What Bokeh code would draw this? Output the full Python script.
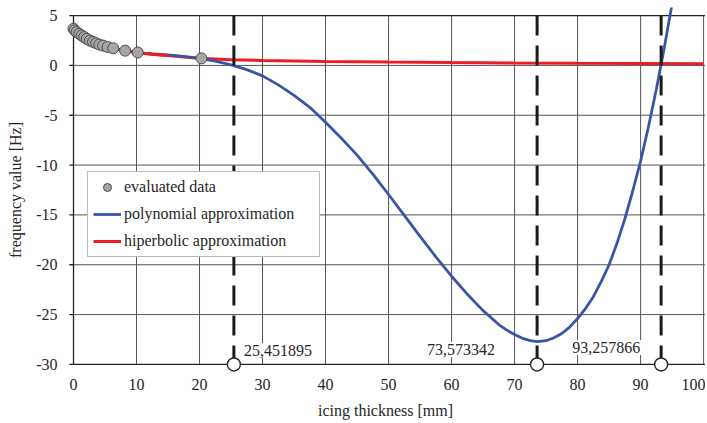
from bokeh.plotting import figure
from bokeh.models import FixedTicker, ColumnDataSource, Legend, LegendItem, Range1d
from bokeh.embed import file_html
from bokeh.resources import INLINE

# ---- data ----
data_x = [0, 0.2, 0.5, 0.9, 1.3, 1.7, 2.1, 2.6, 3.1, 3.6, 4.1, 4.7, 5.4, 6.3, 8.2, 10.2, 20.3]
data_y = [3.68, 3.51, 3.35, 3.17, 3.0, 2.84, 2.67, 2.49, 2.36, 2.23, 2.09, 1.99, 1.85, 1.72, 1.48, 1.30, 0.71]

poly_x = [10.2, 12.5, 15, 17.5, 20, 22.5, 25, 27.5, 30, 32.5, 35, 37.5, 40, 42.5, 45, 47.5,
          50, 52.5, 55, 57.5, 60, 62.5, 65, 67.5, 68.75, 70, 71.25, 72.5, 73.6, 75, 76.25,
          77.5, 78.75, 80, 81.25, 82.5, 83.75, 85, 86.25, 87.5, 88.75, 90, 91.25, 92.5,
          93.75, 95]
poly_y = [1.26, 1.16, 1.05, 0.90, 0.70, 0.42, 0.06, -0.42, -1.05, -1.95, -3.00, -4.20, -5.70,
          -7.30, -9.00, -10.90, -12.95, -15.05, -17.15, -19.20, -21.15, -22.95, -24.60, -26.00,
          -26.55, -27.00, -27.38, -27.62, -27.72, -27.62, -27.32, -26.90, -26.25, -25.40,
          -24.40, -23.20, -21.70, -20.00, -17.85, -15.40, -12.60, -9.60, -6.15, -2.40,
          1.75, 6.20]

hyp_x = [0, 0.5, 1, 2, 3, 4, 5, 6, 8, 10, 12.5, 15, 17.5, 20, 25, 30, 40, 50, 60, 70, 80, 90, 100]
hyp_y = [3.68, 3.38, 3.12, 2.72, 2.40, 2.14, 1.95, 1.78, 1.50, 1.30, 1.13, 1.00, 0.85, 0.73,
         0.58, 0.50, 0.40, 0.33, 0.28, 0.24, 0.21, 0.19, 0.17]

roots = [25.451895, 73.573342, 93.257866]
root_labels = ["25,451895", "73,573342", "93,257866"]

x_ticks = [0, 10, 20, 30, 40, 50, 60, 70, 80, 90, 100]
y_ticks = [-30, -25, -20, -15, -10, -5, 0, 5]

X_MIN, X_MAX = 0, 100.3      # axis starts at 0; plot area runs a bit past 100
Y_MIN, Y_MAX = -30, 5

FONT = "Liberation Serif"
TXT = "#262626"
GRID = "#555555"
AX = "#222222"

p = figure(width=705, height=421, output_backend="svg", toolbar_location=None,
           x_range=Range1d(-1.27, X_MAX), y_range=Range1d(-30.81, 5.81),
           min_border_left=65, min_border_top=7, min_border_right=0, min_border_bottom=10)
p.background_fill_color = "white"
p.border_fill_color = "white"
p.outline_line_color = None
p.grid.visible = False

# axes (labels only; lines drawn below at x=0 / y=-30)
p.xaxis.ticker = FixedTicker(ticks=x_ticks)
p.yaxis.ticker = FixedTicker(ticks=y_ticks)
p.yaxis.major_label_overrides = {t: str(t) for t in y_ticks}
p.xaxis.major_label_overrides = {t: str(t) for t in x_ticks}
for ax in (p.xaxis, p.yaxis):
    ax.axis_line_color = None
    ax.major_tick_line_color = None
    ax.minor_tick_line_color = None
    ax.major_tick_out = 0
    ax.major_tick_in = 0
    ax.major_label_text_font = FONT
    ax.major_label_text_font_size = "16px"
    ax.major_label_text_color = TXT
    ax.axis_label_text_font = FONT
    ax.axis_label_text_font_size = "16px"
    ax.axis_label_text_font_style = "normal"
    ax.axis_label_text_color = TXT
p.xaxis.major_label_standoff = 6
p.xaxis.axis_label = "icing thickness [mm]"
p.xaxis.axis_label_standoff = 9
p.yaxis.major_label_standoff = 8
p.yaxis.axis_label = "frequency value [Hz]"
p.yaxis.axis_label_standoff = 9

# grid lines
vx = x_ticks[1:]
p.segment(x0=vx, x1=vx, y0=[Y_MIN] * len(vx), y1=[Y_MAX] * len(vx),
          line_color=GRID, line_width=1)
hy = y_ticks[1:-1]
p.segment(x0=[X_MIN] * len(hy), x1=[X_MAX] * len(hy), y0=hy, y1=hy,
          line_color=GRID, line_width=1)

# root labels with white boxes (cover the grid)
lab_src = ColumnDataSource(dict(
    x=roots, y=[Y_MIN] * 3, text=root_labels,
    align=["left", "right", "right"],
    xo=[8, -40, -19], yo=[-14, -15, -17]))
p.text(x="x", y="y", text="text", source=lab_src, text_align="align",
       text_baseline="middle", x_offset="xo", y_offset="yo",
       text_font_size="16px", text_font={"value": FONT}, text_color=TXT,
       background_fill_color="white", background_fill_alpha=1.0, padding=2)

# axis lines, top border, y tick marks
p.segment(x0=[X_MIN, X_MIN, X_MIN], x1=[X_MIN, X_MAX, X_MAX],
          y0=[Y_MIN, Y_MIN, Y_MAX], y1=[Y_MAX, Y_MIN, Y_MAX],
          line_color=AX, line_width=1.3)
p.segment(x0=[-0.65] * len(y_ticks), x1=[X_MIN] * len(y_ticks), y0=y_ticks, y1=y_ticks,
          line_color=AX, line_width=1.3)

# curves
r_hyp = p.line(hyp_x, hyp_y, line_color="#ed1c24", line_width=3)
r_poly = p.line(poly_x, poly_y, line_color="#3a55a4", line_width=2.8)
p.line(hyp_x[:12], hyp_y[:12], line_color="#ed1c24", line_width=3)

# vertical dashed lines
p.segment(x0=roots, x1=roots, y0=[Y_MAX] * 3, y1=[Y_MIN] * 3,
          line_color="#1a1a1a", line_width=3, line_dash="20 10")

# data points
r_pts = p.scatter(data_x, data_y, size=11, fill_color="#a6a6a6",
                  line_color="#4a4a4a", line_width=1)

# markers on axis
p.scatter(roots, [Y_MIN] * 3, size=13, fill_color="white",
          line_color="#262626", line_width=1.4)

legend = Legend(items=[
    LegendItem(label="evaluated data", renderers=[r_pts]),
    LegendItem(label="polynomial approximation", renderers=[r_poly]),
    LegendItem(label="hiperbolic approximation", renderers=[r_hyp]),
], location=(22, 115))
legend.margin = 0
legend.padding = 5
legend.spacing = 7
legend.label_height = 20
legend.glyph_height = 20
legend.glyph_width = 28
legend.label_standoff = 3
legend.label_width = 190
legend.label_text_font = FONT
legend.label_text_font_size = "16px"
legend.label_text_color = TXT
legend.border_line_color = "#777777"
legend.border_line_width = 1
legend.background_fill_color = "white"
legend.background_fill_alpha = 1.0
p.add_layout(legend, "center")

open("out.html", "w").write(file_html(p, INLINE))
